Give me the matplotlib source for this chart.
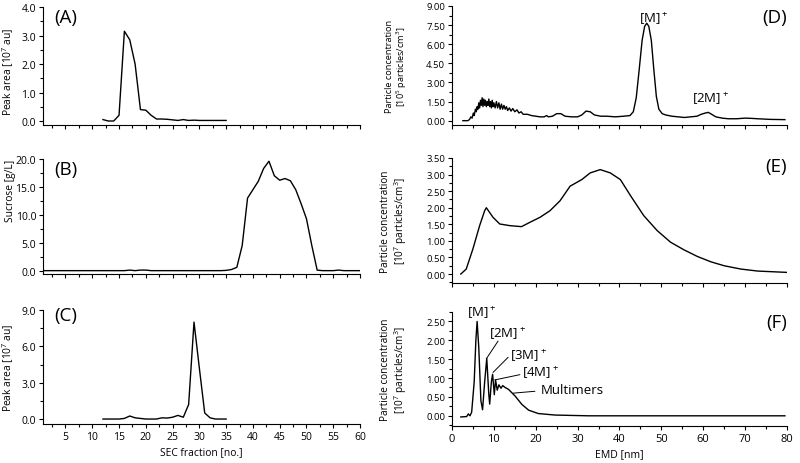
import matplotlib
matplotlib.use('Agg')
import matplotlib.pyplot as plt
from matplotlib.ticker import MultipleLocator, FormatStrFormatter

plt.rcParams['font.family'] = ['Open Sans', 'DejaVu Sans']
plt.rcParams['mathtext.fontset'] = 'custom'
plt.rcParams['mathtext.rm'] = 'Open Sans'
plt.rcParams['mathtext.it'] = 'Open Sans'
plt.rcParams['font.size'] = 8

# SEC fractions (left column)
frac_a = list(range(12, 36))
peak_a = [0.05, 0.0, 0.0, 0.2, 3.15, 2.85, 2.0, 0.4, 0.38, 0.2, 0.07, 0.07,
          0.06, 0.04, 0.02, 0.05, 0.02, 0.03, 0.02, 0.02, 0.02, 0.02, 0.02, 0.02]

frac_b = list(range(1, 61))
sucrose_b = [0.0, 0.0, 0.0, 0.0, 0.0, 0.0, 0.0, 0.0, 0.0, 0.0,
             0.0, 0.0, 0.0, 0.0, 0.0, 0.0, 0.1, 0.0, 0.1, 0.1,
             0.0, 0.0, 0.0, 0.0, 0.0, 0.0, 0.0, 0.0, 0.0, 0.0,
             0.0, 0.0, 0.0, 0.0, 0.05, 0.2, 0.6, 4.5, 13.0, 14.5,
             16.0, 18.3, 19.6, 17.0, 16.2, 16.5, 16.1, 14.5, 12.0, 9.3,
             4.5, 0.1, 0.0, 0.0, 0.0, 0.1, 0.0, 0.0, 0.0, 0.0]

frac_c = list(range(12, 36))
peak_c = [0.0, 0.0, 0.0, 0.0, 0.05, 0.25, 0.1, 0.05, 0.0, 0.0, 0.0, 0.1,
          0.08, 0.15, 0.3, 0.15, 1.2, 8.0, 4.2, 0.5, 0.1, 0.0, 0.0, 0.0]

# EMD spectra (right column)
emd_d = [2.6, 3.8, 4.2, 4.5, 4.8, 5.1, 5.3, 5.6, 5.8, 6.0, 6.2, 6.4, 6.6, 6.8,
         7.0, 7.2, 7.4, 7.6, 7.8, 8.0, 8.2, 8.4, 8.6, 8.8, 9.0, 9.2, 9.4, 9.6,
         9.8, 10.0, 10.3, 10.6, 10.9, 11.2, 11.5, 11.8, 12.1, 12.4, 12.7, 13.0,
         13.3, 13.7, 14.1, 14.5, 15.0, 15.5, 16.0, 16.5, 17.0, 18.0, 19.0, 20.0,
         21.0, 22.0, 22.6, 23.0, 24.0, 25.0, 26.0, 27.0, 28.5, 30.0, 31.0, 32.0,
         33.0, 34.0, 35.5, 37.0, 39.0, 41.0, 42.5, 43.3, 44.0, 44.7, 45.4, 46.0,
         46.5, 47.0, 47.6, 48.2, 48.8, 49.4, 50.2, 51.0, 52.5, 54.0, 55.5, 57.0,
         58.5, 59.5, 60.5, 61.2, 62.0, 63.0, 64.5, 66.0, 68.0, 70.0, 71.5, 73.0,
         76.0, 79.5]
conc_d = [0.0, 0.0, 0.1, 0.3, 0.2, 0.6, 0.4, 0.9, 0.7, 1.1, 0.9, 1.4, 1.0, 1.6,
          1.2, 1.8, 1.1, 1.7, 1.2, 1.6, 1.1, 1.5, 1.2, 1.7, 1.1, 1.5, 1.0, 1.6,
          1.1, 1.4, 1.0, 1.5, 1.0, 1.4, 0.9, 1.3, 0.9, 1.2, 0.9, 1.1,
          0.8, 1.0, 0.75, 0.95, 0.7, 0.85, 0.6, 0.7, 0.5, 0.5, 0.4, 0.35,
          0.3, 0.3, 0.4, 0.3, 0.35, 0.55, 0.55, 0.35, 0.3, 0.3, 0.45, 0.75,
          0.7, 0.45, 0.35, 0.35, 0.3, 0.35, 0.4, 0.7, 1.8, 4.0, 6.3, 7.4,
          7.65, 7.4, 6.3, 4.0, 1.9, 0.9, 0.55, 0.45, 0.35, 0.3, 0.25, 0.3,
          0.35, 0.5, 0.6, 0.65, 0.5, 0.3, 0.2, 0.15, 0.15, 0.2, 0.18, 0.15,
          0.1, 0.08]

emd_e = [2.1, 3.4, 5.0, 6.6, 7.8, 8.2, 9.8, 11.4, 13.8, 16.6, 18.6, 21.0, 23.4,
         25.8, 28.2, 31.0, 33.0, 35.4, 37.8, 40.2, 42.6, 45.8, 49.0, 52.2, 55.4,
         58.6, 61.8, 65.0, 69.0, 73.0, 80.0]
conc_e = [0.0, 0.15, 0.76, 1.46, 1.91, 2.0, 1.71, 1.51, 1.46, 1.43, 1.56, 1.71,
          1.91, 2.21, 2.65, 2.85, 3.05, 3.15, 3.05, 2.85, 2.37, 1.76, 1.31, 0.96,
          0.73, 0.53, 0.37, 0.25, 0.15, 0.09, 0.05]

emd_f = [2.1, 3.5, 3.9, 4.3, 4.7, 5.3, 5.7, 6.0, 6.4, 6.9, 7.3, 7.8, 8.3, 8.8,
         9.0, 9.4, 9.7, 10.1, 10.4, 10.8, 11.2, 11.7, 12.1, 12.7, 13.5, 15.1,
         16.7, 18.3, 20.6, 24.6, 32.6, 79.5]
conc_f = [-0.03, -0.02, 0.05, 0.0, 0.1, 0.9, 2.0, 2.5, 1.8, 0.4, 0.16, 0.9,
          1.52, 0.55, 0.31, 0.9, 1.1, 0.56, 0.95, 0.68, 0.82, 0.73, 0.8, 0.75,
          0.7, 0.52, 0.3, 0.15, 0.06, 0.02, 0.0, 0.0]

# peak labels in (F): text, text position, leader line start and end
f_labels = ['[2M]$^+$', '[3M]$^+$', '[4M]$^+$', 'Multimers']
f_text_pos = [(13.2, 2.20), (18.3, 1.61), (21.0, 1.16), (28.8, 0.71)]
f_line_from = [(11.0, 1.98), (13.4, 1.55), (16.2, 1.09), (19.8, 0.65)]
f_line_to = [(8.2, 1.51), (9.8, 1.15), (10.2, 0.95), (14.6, 0.60)]

fig = plt.figure(figsize=(8, 4.64), dpi=100)

W, H = 800.0, 464.0


def make_ax(left, right, top, bottom, tsize):
    ax = fig.add_axes([left / W, 1 - bottom / H, (right - left) / W, (bottom - top) / H])
    ax.spines['top'].set_visible(False)
    ax.spines['right'].set_visible(False)
    ax.tick_params(which='major', direction='out', length=3, width=0.8, pad=2, labelsize=tsize)
    ax.tick_params(which='minor', direction='out', length=2, width=0.8)
    return ax


# left column
ax_a = make_ax(43, 360, 8, 126, 7.5)
ax_b = make_ax(43, 360, 160, 275, 7.5)
ax_c = make_ax(43, 360, 311, 425, 7.5)

for ax, x, y, ylim, step, lbl, lbl_y, letter, ly in [
        (ax_a, frac_a, peak_a, (-0.14, 4.0), 1.0, r'Peak area [10$^7$ au]', 0.46, '(A)', 0.915),
        (ax_b, frac_b, sucrose_b, (-0.6, 20.0), 5.0, 'Sucrose [g/L]', 0.73, '(B)', 0.913),
        (ax_c, frac_c, peak_c, (-0.41, 9.0), 3.0, r'Peak area [10$^7$ au]', 0.5, '(C)', 0.955)]:
    ax.plot(x, y, color='black', lw=1.0)
    ax.set_xlim(0.8, 60)
    ax.set_ylim(*ylim)
    ax.xaxis.set_major_locator(MultipleLocator(5))
    ax.xaxis.set_minor_locator(MultipleLocator(2.5))
    ax.yaxis.set_major_locator(MultipleLocator(step))
    ax.yaxis.set_minor_locator(MultipleLocator(step / 2))
    ax.yaxis.set_major_formatter(FormatStrFormatter('%.1f'))
    ax.set_ylabel(lbl, fontsize=7.4)
    ax.yaxis.set_label_coords(-0.086, lbl_y)
    ax.text(0.035, ly, letter, transform=ax.transAxes, fontsize=13.5, ha='left', va='center')
    if ax is not ax_c:
        ax.tick_params(axis='x', labelbottom=False)
ax_c.set_xlabel('SEC fraction [no.]', fontsize=7.4, labelpad=3)

# right column
ax_d = make_ax(452, 787, 7, 126, 6.8)
ax_e = make_ax(452, 787, 159, 284, 6.8)
ax_f = make_ax(452, 787, 313, 427, 6.8)
ax_f.tick_params(axis='x', labelsize=8)

for ax, x, y, ylim, step, exp, lsize, letter, ly in [
        (ax_d, emd_d, conc_d, (-0.34, 9.0), 1.5, '5', 6.6, '(D)', 0.91),
        (ax_e, emd_e, conc_e, (-0.27, 3.5), 0.5, '7', 7.2, '(E)', 0.938),
        (ax_f, emd_f, conc_f, (-0.27, 2.75), 0.5, '7', 7.2, '(F)', 0.912)]:
    ax.plot(x, y, color='black', lw=1.0)
    ax.set_xlim(0, 80)
    ax.set_ylim(*ylim)
    ax.xaxis.set_major_locator(MultipleLocator(10))
    ax.xaxis.set_minor_locator(MultipleLocator(5))
    ax.yaxis.set_major_locator(MultipleLocator(step))
    ax.yaxis.set_minor_locator(MultipleLocator(step / 2))
    ax.yaxis.set_major_formatter(FormatStrFormatter('%.2f'))
    ax.set_ylabel('Particle concentration\n[10$^{' + exp + '}$ particles/cm$^3$]',
                  fontsize=lsize, linespacing=1.1)
    ax.yaxis.set_label_coords(-0.128, 0.5)
    ax.text(1.0, ly, letter, transform=ax.transAxes, fontsize=13.5, ha='right', va='center')
    if ax is not ax_f:
        ax.tick_params(axis='x', labelbottom=False)
ax_f.set_xlabel('EMD [nm]', fontsize=7.6, labelpad=3)

# peak labels
ax_d.text(48.1, 8.05, '[M]$^+$', fontsize=9.5, ha='center', va='center')
ax_d.text(61.6, 1.79, '[2M]$^+$', fontsize=9.5, ha='center', va='center')

ax_f.text(7.0, 2.74, '[M]$^+$', fontsize=9.5, ha='center', va='center')
for lbl, pos, p0, p1 in zip(f_labels, f_text_pos, f_line_from, f_line_to):
    ax_f.text(pos[0], pos[1], lbl, fontsize=9.5, ha='center', va='center')
    ax_f.annotate('', xy=p1, xytext=p0,
                  arrowprops=dict(arrowstyle='-', lw=0.7, color='black',
                                  shrinkA=0, shrinkB=0))

fig.savefig('out.png', dpi=100)
